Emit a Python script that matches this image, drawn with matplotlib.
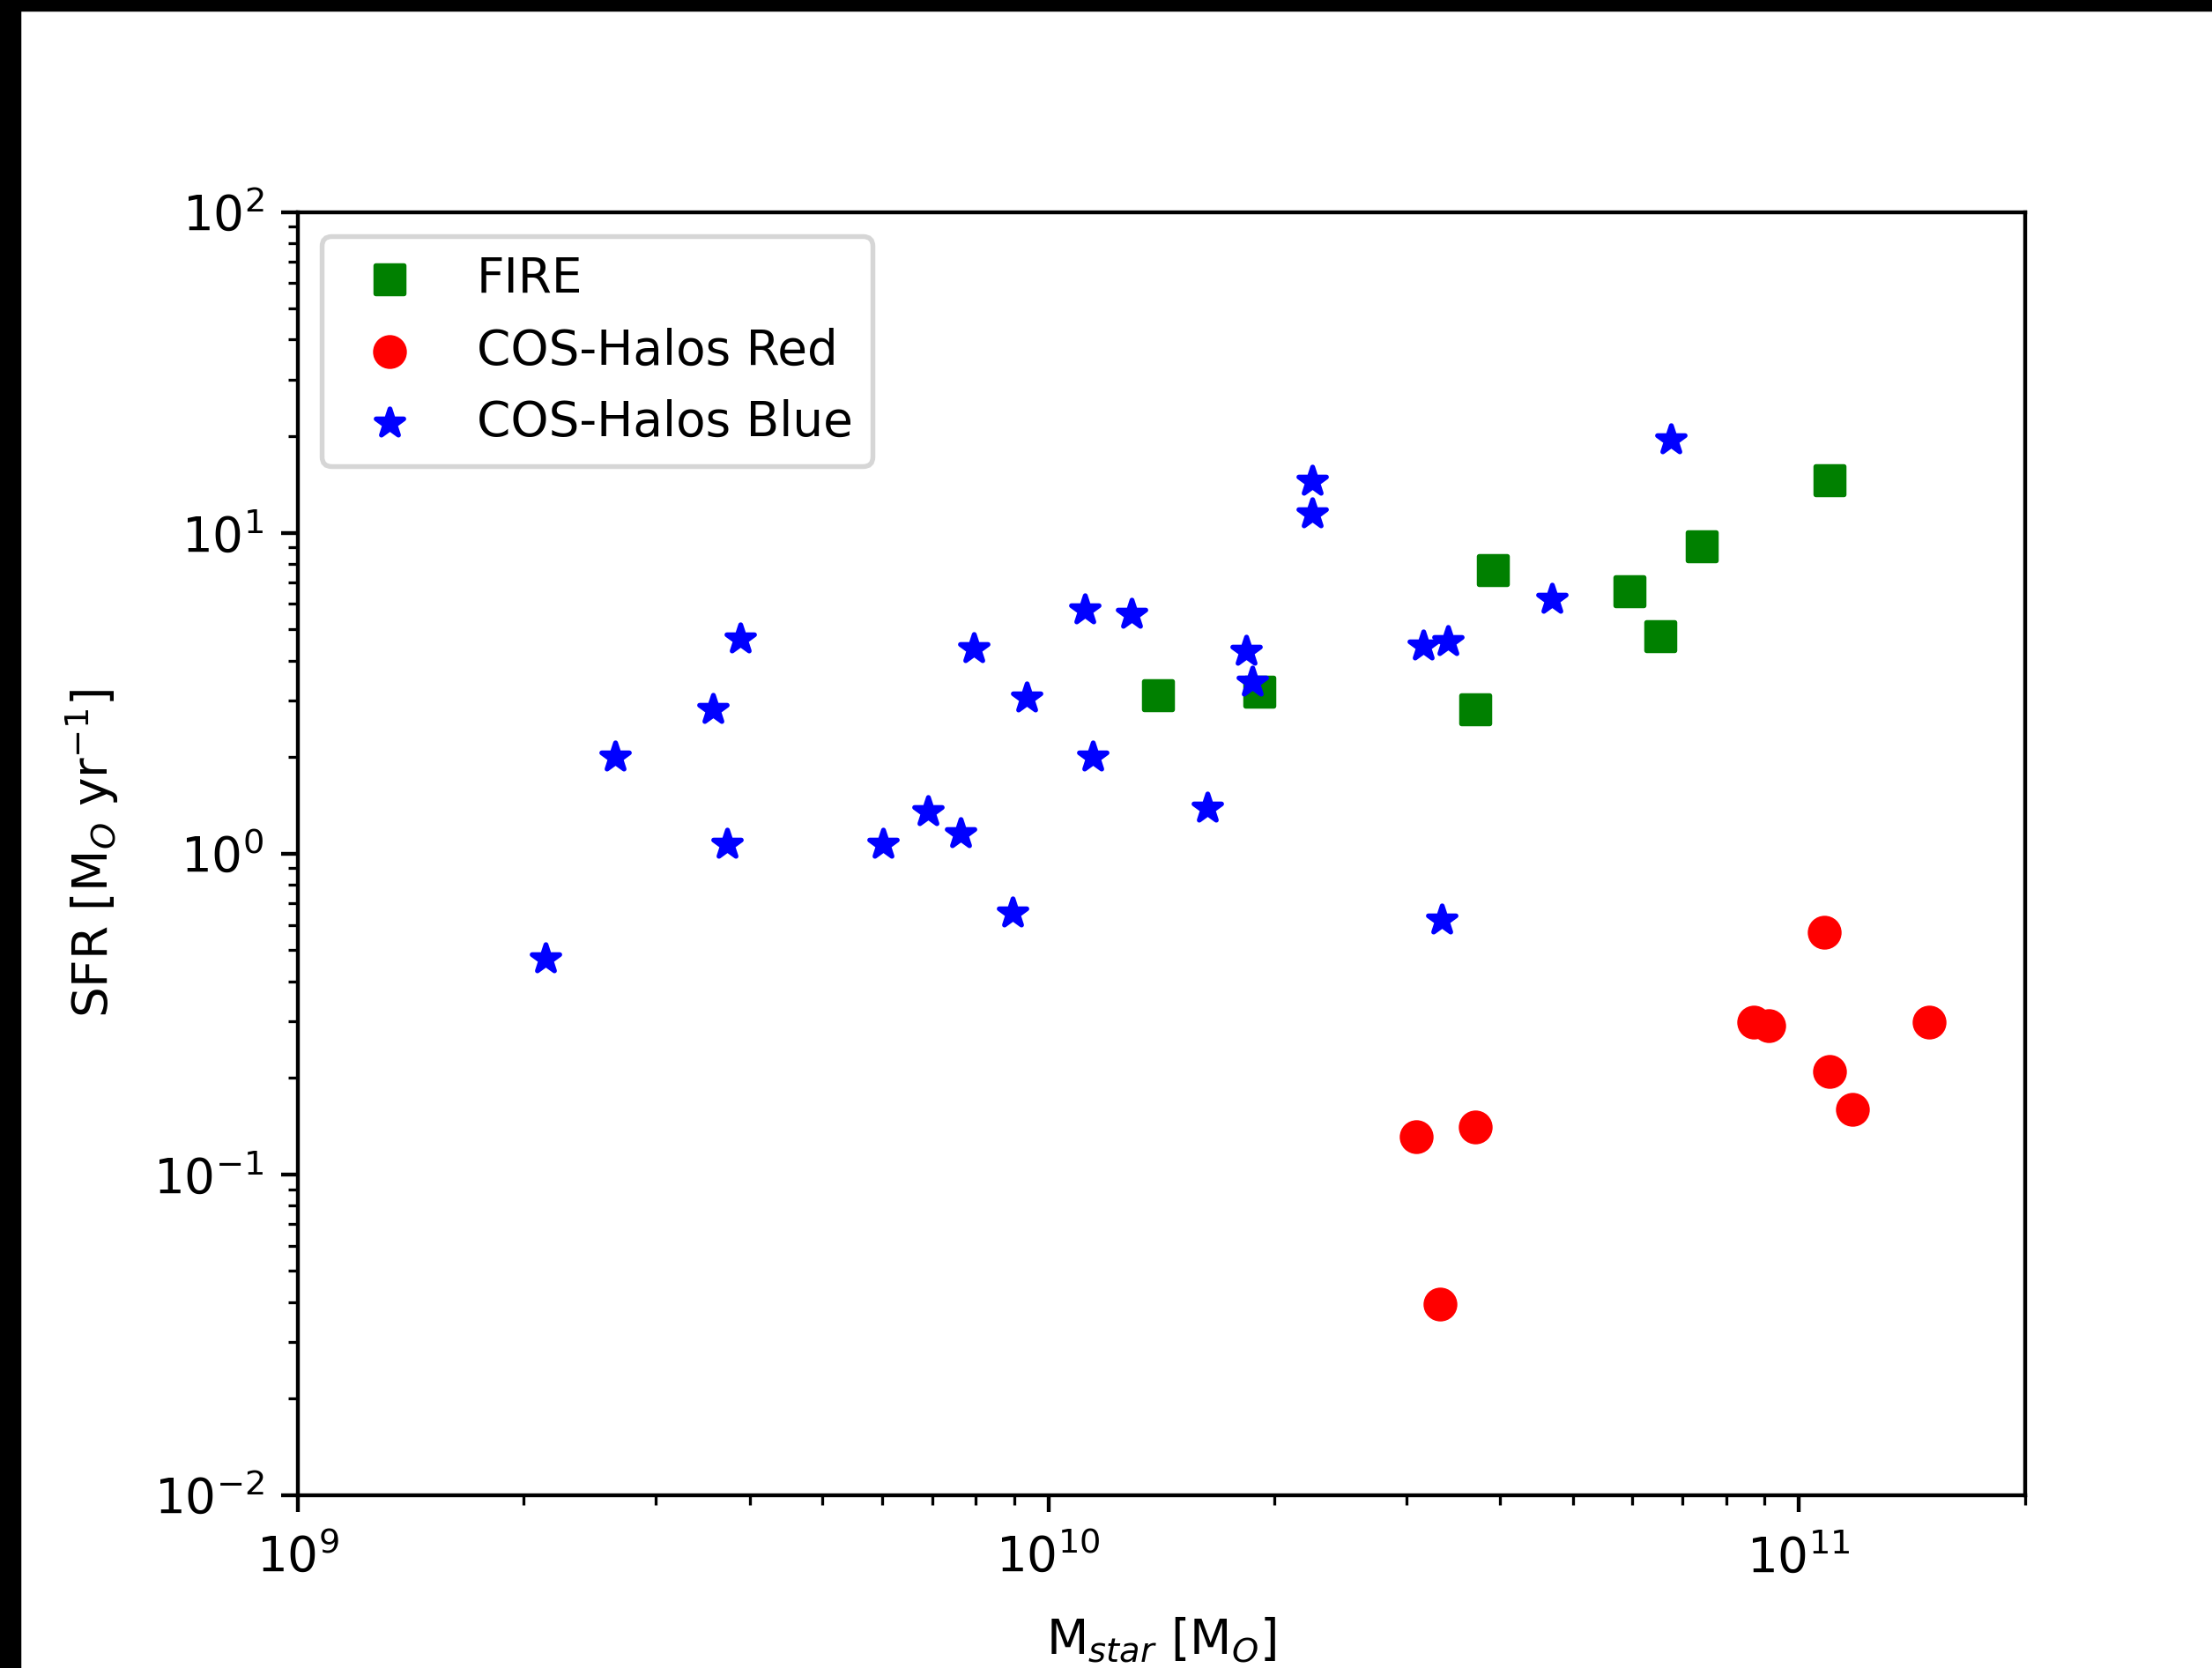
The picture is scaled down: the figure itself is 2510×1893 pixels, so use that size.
import matplotlib
matplotlib.use("Agg")
import matplotlib.pyplot as plt
from matplotlib.patches import Rectangle

# FIRE simulations
fire_mstar = [1.40e10, 1.91e10, 3.71e10, 3.91e10, 5.94e10, 6.53e10, 7.43e10, 1.10e11]
fire_sfr = [3.11, 3.19, 2.81, 7.64, 6.58, 4.75, 9.05, 14.6]

# COS-Halos red (passive) galaxies
red_mstar = [1.08e11, 8.72e10, 9.11e10, 1.49e11, 1.10e11, 1.18e11, 3.09e10, 3.71e10, 3.33e10]
red_sfr = [0.570, 0.298, 0.291, 0.298, 0.210, 0.160, 0.131, 0.141, 0.0395]

# COS-Halos blue (star forming) galaxies
blue_mstar = [3.89e9, 3.57e9, 2.65e9, 3.73e9, 6.03e9, 2.14e9, 2.245e10, 2.245e10,
              1.12e10, 1.29e10, 7.96e9, 1.835e10, 1.87e10, 3.16e10, 3.41e10,
              9.35e9, 1.146e10, 6.92e9, 7.63e9, 1.63e10, 8.96e9, 3.34e10,
              6.75e10, 4.69e10]
blue_sfr = [4.67, 2.82, 2.00, 1.07, 1.07, 0.470, 14.45, 11.44,
            5.74, 5.57, 4.35, 4.27, 3.42, 4.44, 4.57,
            3.06, 2.00, 1.35, 1.157, 1.385, 0.653, 0.621,
            19.45, 6.19]

dpi = 395
fig = plt.figure(figsize=(2510/dpi, 1893/dpi), dpi=dpi)
ax = fig.add_axes([0.13466, 0.10354, 0.78068, 0.76941])

ax.scatter(fire_mstar, fire_sfr, marker='s', color='green', label='FIRE')
ax.scatter(red_mstar, red_sfr, marker='o', color='red', label='COS-Halos Red')
ax.scatter(blue_mstar, blue_sfr, marker='*', color='blue', label='COS-Halos Blue')

ax.set_xscale('log')
ax.set_yscale('log')
ax.set_xlim(1e9, 2e11)
ax.set_ylim(1e-2, 1e2)
ax.tick_params(axis='x', pad=4.6)
ax.set_xlabel('M$_{star}$ [M$_O$]', labelpad=7)
ax.set_ylabel('SFR [M$_O$ yr$^{-1}$]', labelpad=7)
ax.legend(loc='upper left')

# black screenshot border on top and left
fig.patches.append(Rectangle((0, 1 - 10/1893), 1, 10/1893, transform=fig.transFigure,
                             color='black', zorder=10))
fig.patches.append(Rectangle((0, 0), 21/2510, 1, transform=fig.transFigure,
                             color='black', zorder=10))

fig.savefig('out.png', dpi=dpi)
